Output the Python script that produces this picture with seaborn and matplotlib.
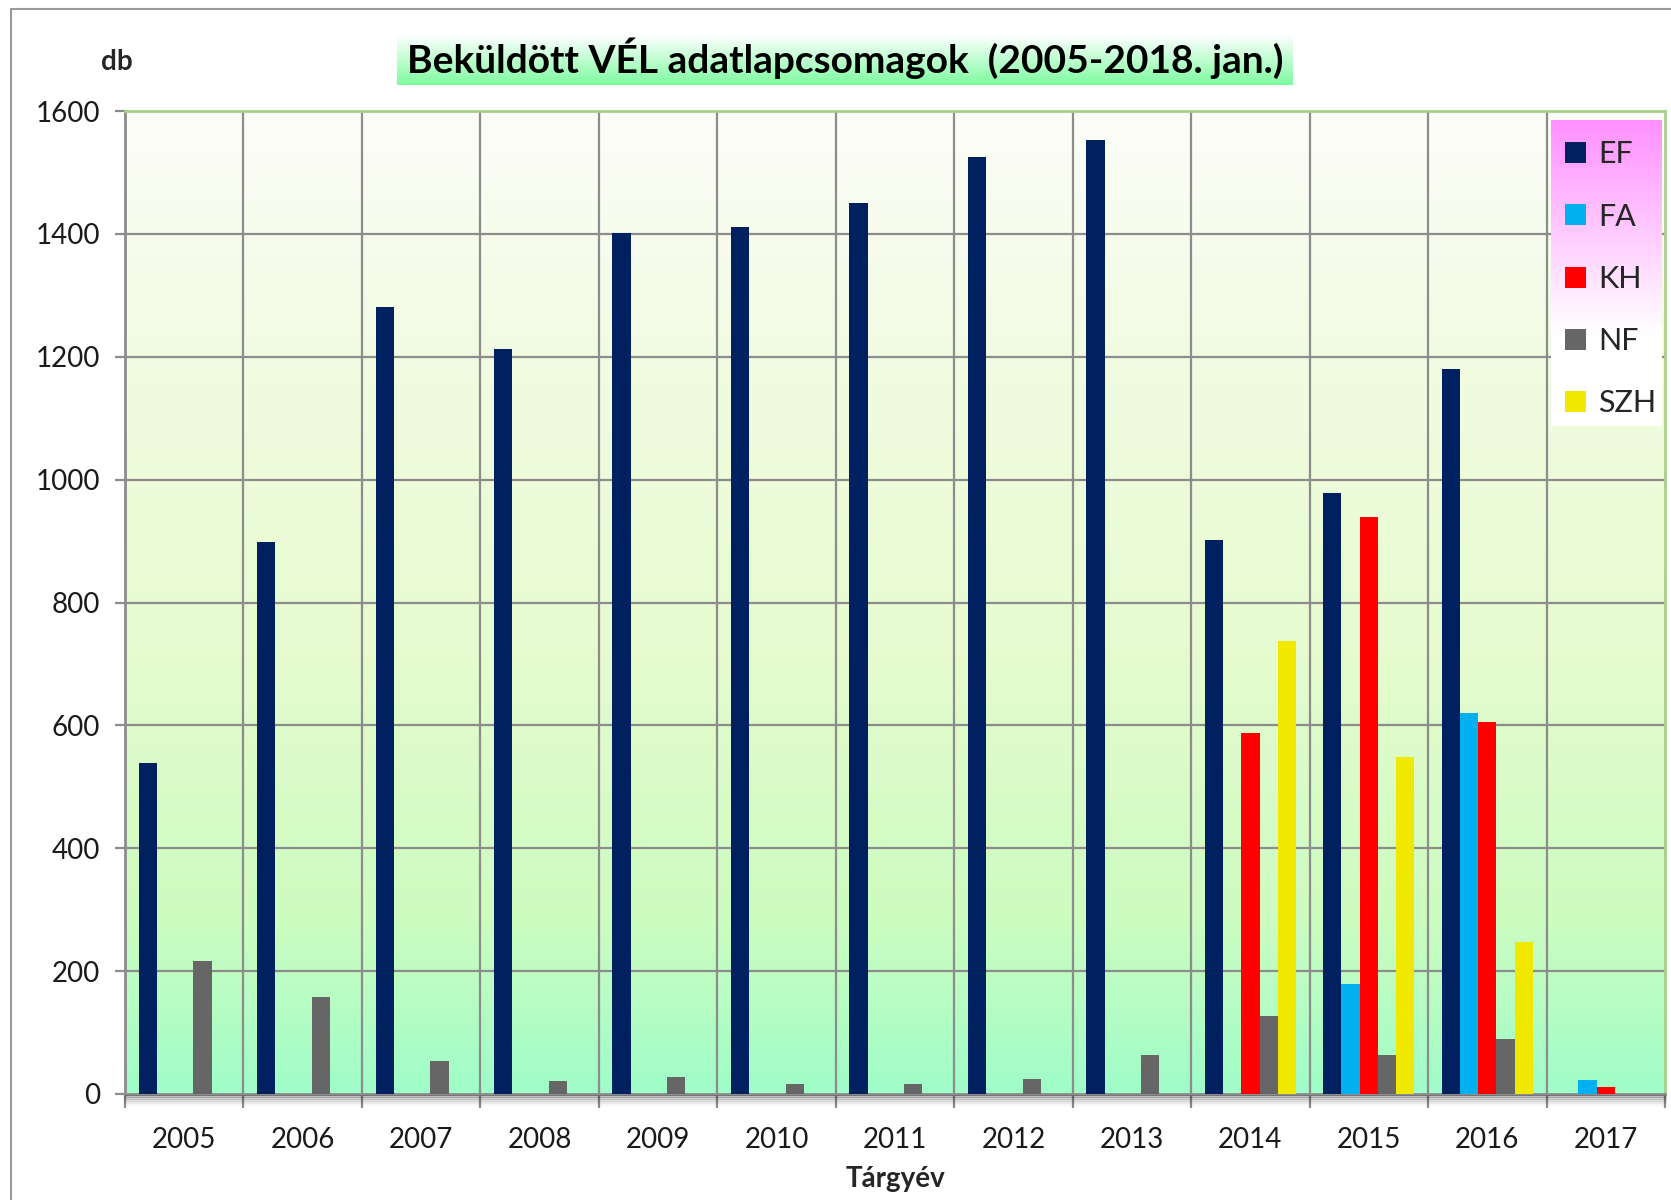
import matplotlib
matplotlib.use("Agg")
import matplotlib.pyplot as plt
import matplotlib.colors as mcolors
import numpy as np
import pandas as pd
import seaborn as sns
from matplotlib.lines import Line2D

# Adatok (leolvasva az abrarol)
evek = [str(e) for e in range(2005, 2018)]
sorozatok = ["EF", "FA", "KH", "NF", "SZH"]
ef = [539, 898, 1281, 1213, 1402, 1411, 1451, 1525, 1553, 901, 979, 1180, 0]
fa = [0, 0, 0, 0, 0, 0, 0, 0, 0, 0, 179, 620, 23]
kh = [0, 0, 0, 0, 0, 0, 0, 0, 0, 588, 939, 605, 12]
nf = [217, 158, 54, 21, 28, 17, 17, 24, 64, 127, 64, 90, 0]
szh = [0, 0, 0, 0, 0, 0, 0, 0, 0, 738, 549, 248, 0]
szinek = ["#00205f", "#00b0f0", "#ff0000", "#666666", "#f0e800"]

df = pd.DataFrame({"Tárgyév": evek, "EF": ef, "FA": fa, "KH": kh, "NF": nf, "SZH": szh})
df_long = df.melt(id_vars="Tárgyév", var_name="Sorozat", value_name="db")

sns.set_theme(style="white")
plt.rcParams["font.family"] = ["Lato", "DejaVu Sans"]

W, H = 1671, 1200
fig = plt.figure(figsize=(W / 100, H / 100), dpi=100)
fig.patch.set_facecolor("white")


def fx(px):
    return px / W


def fy(py):
    return 1 - py / H


ax = fig.add_axes([fx(125), fy(1094), fx(1665 - 125), (1094 - 111) / H])

# hatter szinatmenet
grad = mcolors.LinearSegmentedColormap.from_list(
    "hatter",
    [(0.0, "#a0fcc8"), (0.18, "#cdfcc0"), (0.45, "#e6fbcf"),
     (0.75, "#f1fbe2"), (1.0, "#fdfdf8")],
)
ax.imshow(np.linspace(0, 1, 256).reshape(-1, 1), cmap=grad, origin="lower",
          aspect="auto", extent=(-0.5, 12.5, 0, 1600), zorder=0)

sns.barplot(data=df_long, x="Tárgyév", y="db", hue="Sorozat",
            hue_order=sorozatok, palette=szinek, width=0.77, gap=0,
            saturation=1, linewidth=0, ax=ax, legend=True, zorder=3)

ax.set_xlim(-0.5, 12.5)
ax.set_ylim(0, 1600)
ax.set_yticks(range(0, 1601, 200))
ax.set_xticks(np.arange(-0.5, 12.6, 1), minor=True)
ax.grid(False)
for y in range(200, 1601, 200):
    ax.axhline(y, color="#8c8c8c", lw=1.6, zorder=1)
for x in np.arange(0.5, 12.5, 1):
    ax.axvline(x, color="#8c8c8c", lw=1.6, zorder=1)

for s in ["left", "bottom"]:
    ax.spines[s].set_color("#8c8c8c")
    ax.spines[s].set_linewidth(2)
for s in ["top", "right"]:
    ax.spines[s].set_color("#a8d08d")
    ax.spines[s].set_linewidth(2)

ax.tick_params(axis="y", which="major", length=7, width=1.6, color="#8c8c8c",
               direction="out", pad=11, labelsize=20, left=True)
ax.tick_params(axis="x", which="major", length=0, pad=24, labelsize=20)
ax.tick_params(axis="x", which="minor", length=10, width=1.6, color="#8c8c8c",
               direction="out", bottom=True)
for lbl in ax.get_xticklabels() + ax.get_yticklabels():
    lbl.set_color("#1a1a1a")
ax.set_xlabel("")
ax.set_ylabel("")

# tengely arnyeka
for i, a in enumerate([0.25, 0.18, 0.12, 0.07, 0.03]):
    fig.add_artist(Line2D([fx(125), fx(1665)], [fy(1096 + i * 2)] * 2,
                          color="black", alpha=a, lw=2))

# jelmagyarazat
handles, labels = ax.get_legend_handles_labels()
ax.get_legend().remove()
lax = fig.add_axes([fx(1551), fy(426), fx(1662 - 1551), (426 - 120) / H])
leg_grad = mcolors.LinearSegmentedColormap.from_list(
    "leg", [(0.0, "#ffffff"), (0.3, "#ffffff"), (0.7, "#ffc0ff"),
            (1.0, "#ff90ff")])
lax.imshow(np.linspace(0, 1, 256).reshape(-1, 1), cmap=leg_grad,
           origin="lower", aspect="auto", extent=(0, 1, 0, 1))
lax.set_axis_off()
fig.legend(handles, labels, loc="upper left",
           bbox_to_anchor=(fx(1550), fy(125)), frameon=False, fontsize=22,
           handlelength=0.68, handleheight=0.68, handletextpad=0.4,
           labelspacing=1.12, borderpad=0)

# cim hatter
tax = fig.add_axes([fx(397), fy(85), fx(1293 - 397), (85 - 35) / H])
cim_grad = mcolors.LinearSegmentedColormap.from_list(
    "cim", [(0.0, "#7dfb9f"), (1.0, "#ffffff")])
tax.imshow(np.linspace(0, 1, 256).reshape(-1, 1), cmap=cim_grad,
           origin="lower", aspect="auto", extent=(0, 1, 0, 1))
tax.set_axis_off()
fig.text(fx(845), fy(58), "Beküldött VÉL adatlapcsomagok  (2005-2018. jan.)",
         ha="center", va="center", fontsize=28, fontweight="bold", color="black")

fig.text(fx(117), fy(62), "db", ha="center", va="center", fontsize=20,
         fontweight="bold")
fig.text(fx(895), fy(1179), "Tárgyév", ha="center", va="center", fontsize=20,
         fontweight="bold")

# kulso keret
fig.add_artist(Line2D([fx(11), fx(11)], [fy(9), 0], color="#9a9a9a", lw=1.5))
fig.add_artist(Line2D([fx(11), 1], [fy(9), fy(9)], color="#9a9a9a", lw=1.5))

fig.savefig("out.png", dpi=100)
